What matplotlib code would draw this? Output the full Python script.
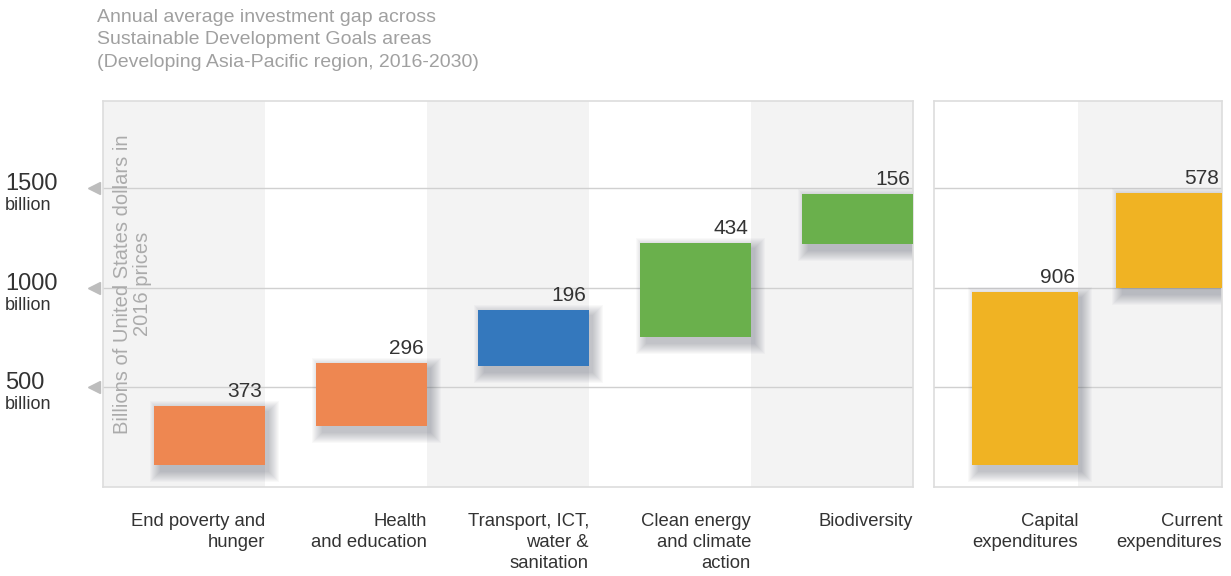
import matplotlib
matplotlib.use("Agg")
import matplotlib.pyplot as plt
from matplotlib.patches import Rectangle

plt.rcParams['font.family'] = ['Liberation Sans', 'DejaVu Sans']

title = ("Annual average investment gap across\n"
         "Sustainable Development Goals areas\n"
         "(Developing Asia-Pacific region, 2016-2030)")
ylabel = "Billions of United States dollars in\n2016 prices"

sdg_labels = ["End poverty and\nhunger", "Health\nand education",
              "Transport, ICT,\nwater &\nsanitation",
              "Clean energy\nand climate\naction", "Biodiversity"]
sdg_values = [373, 296, 196, 434, 156]
# bar extents as drawn in the picture (billions)
sdg_bottom = [110, 305, 605, 750, 1220]
sdg_top = [405, 620, 885, 1225, 1470]
sdg_colors = ["#ee8751", "#ee8751", "#3478bd", "#6ab04c", "#6ab04c"]

exp_labels = ["Capital\nexpenditures", "Current\nexpenditures"]
exp_values = [906, 578]
exp_bottom = [110, 1000]
exp_top = [980, 1475]
exp_colors = ["#f0b323", "#f0b323"]

yticks = [500, 1000, 1500]
ymax = 1935

W, H = 1231, 576
fig = plt.figure(figsize=(W / 100, H / 100), dpi=100)
ax1 = fig.add_axes([103 / W, 1 - 487 / H, 810 / W, 386 / H])
ax2 = fig.add_axes([934 / W, 1 - 487 / H, 288 / W, 386 / H])


def draw_panel(ax, labels, values, bottom, top, colors, width, shade):
    n = len(labels)
    ax.set_xlim(0, n)
    ax.set_ylim(0, ymax)
    bb = ax.get_position()
    px = n / (bb.width * W)
    py = ymax / (bb.height * H)
    for i in range(n):
        if shade[i]:
            ax.axvspan(i, i + 1, color="#f3f3f3", lw=0, zorder=0)
    for y in yticks:
        ax.axhline(y, color="#d0d0d0", lw=1, zorder=1)
    for i in range(n):
        x0 = i + 1 - width
        h = top[i] - bottom[i]
        # soft shadow
        for s in range(1, 12):
            ax.add_patch(Rectangle((x0 + 7 * px - s * px, bottom[i] - 6 * py - s * py),
                                   width + 2 * s * px - 4 * px, h + 2 * s * py,
                                   color="#2a3040", alpha=0.028, lw=0, zorder=2))
        ax.add_patch(Rectangle((x0, bottom[i]), width, h, color=colors[i], lw=0, zorder=3))
        ax.text(i + 1 - 3 * px, top[i] + 9 * py, str(values[i]), ha="right",
                va="baseline", fontsize=15, color="#333333", zorder=4)
        ax.text(i + 1, -26 * py, labels[i], ha="right", va="top", fontsize=13.3,
                color="#333333", linespacing=1.32)
    ax.set_xticks([])
    ax.set_yticks([])
    for sp in ax.spines.values():
        sp.set_color("#dddddd")
        sp.set_linewidth(1.2)


draw_panel(ax1, sdg_labels, sdg_values, sdg_bottom, sdg_top, sdg_colors,
           0.685, [True, False, True, False, True])
draw_panel(ax2, exp_labels, exp_values, exp_bottom, exp_top, exp_colors,
           0.735, [False, True])

tr = ax1.get_yaxis_transform()
py1 = ymax / 386
for y in yticks:
    ax1.plot([-0.011], [y], marker="<", markersize=9, color="#bdbdbd",
             transform=tr, clip_on=False, zorder=5)
    ax1.text(-0.121, y - 2 * py1, str(y), transform=tr, ha="left", va="baseline",
             fontsize=17, color="#333333")
    ax1.text(-0.121, y - 22 * py1, "billion", transform=tr, ha="left", va="baseline",
             fontsize=13, color="#333333")

ax1.text(0.036, 0.525, ylabel, transform=ax1.transAxes, rotation=90,
         ha="center", va="center", fontsize=14.5, color="#ababab",
         multialignment="center", linespacing=1.05, zorder=4)

fig.text(97 / W, 1 - 9 / H, title, ha="left", va="top", fontsize=14,
         color="#a0a0a0", linespacing=1.42)

fig.savefig("out.png", dpi=100, facecolor="white")
